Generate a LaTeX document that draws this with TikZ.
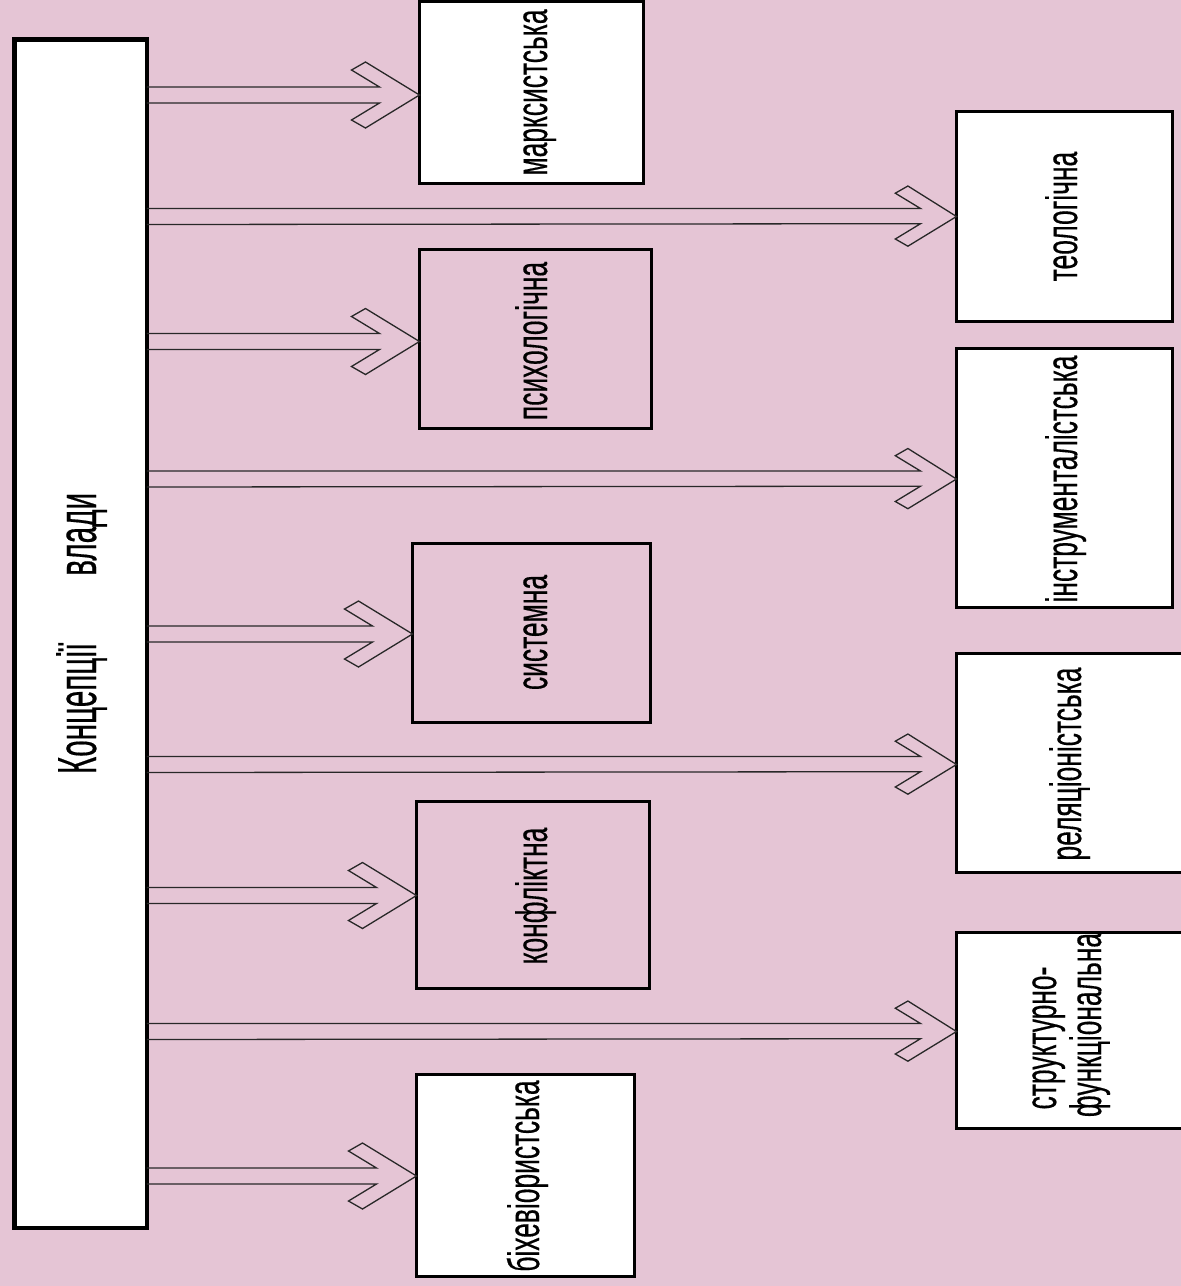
\documentclass[tikz,border=0pt]{standalone}
\usepackage{fontspec}
\setmainfont{Liberation Sans}[FakeBold=0.5]
\usetikzlibrary{calc}
\definecolor{bgpink}{RGB}{229,197,213}
\definecolor{lineink}{RGB}{40,40,40}
\tikzset{
  frame/.style={draw=black, line width=3pt, inner sep=0pt, outer sep=0pt, anchor=north west},
  lbl/.style={rotate=90, anchor=base, inner sep=0pt, font=\fontsize{44}{46}\selectfont},
  shaft/.style={draw=lineink, line width=1.3pt, line join=miter}
}
\newcommand\nar[1]{\scalebox{0.6}[1]{#1}}
% #1 from node, #2 to node, #3 image y, #4 head scale
\newcommand\hconn[4]{%
  \draw[shaft] ($(#1.east |- 0,#3)+(0,-8)$) -- ($(#2.west |- 0,#3)+({-40*#4},-8)$)
    -- ++({-28*#4},{-17*#4}) -- ++({14*#4},{-8*#4}) -- (#2.west |- 0,#3)
    -- ++({-54*#4},{33*#4}) -- ++({-14*#4},{-8*#4})
    -- ++({28*#4},{-17*#4}) -- ($(#1.east |- 0,#3)+(0,8)$);}
\begin{document}
\begin{tikzpicture}[x=1pt,y=-1pt]
\useasboundingbox (0,0) rectangle (1181,1286);
\clip (0,0) rectangle (1181,1286);
\fill[bgpink] (0,0) rectangle (1181,1286);
% main box
\node[frame, line width=4.5pt, fill=white, minimum width=132.5, minimum height=1188.5] (L) at (14.25,39.25) {};
% middle column
\node[frame, fill=white,  minimum width=224, minimum height=182] (m1) at (419.5,1.5) {};
\node[frame, fill=bgpink, minimum width=232, minimum height=179] (m2) at (419.5,249.5) {};
\node[frame, fill=bgpink, minimum width=238, minimum height=179] (m3) at (412.5,543.5) {};
\node[frame, fill=bgpink, minimum width=233, minimum height=187] (m4) at (416.5,801.5) {};
\node[frame, fill=white,  minimum width=218, minimum height=202] (m5) at (416.5,1074.5) {};
% right column
\node[frame, fill=white, minimum width=216, minimum height=210] (r1) at (956.5,111.5) {};
\node[frame, fill=white, minimum width=216, minimum height=259] (r2) at (956.5,348.5) {};
\node[frame, fill=white, minimum width=240, minimum height=219] (r3) at (956.5,653.5) {};
\node[frame, fill=white, minimum width=240, minimum height=196] (r4) at (956.5,932.5) {};
% labels
\node[lbl, font=\fontsize{55}{57}\selectfont] (tL) at (96,633.5) {\scalebox{0.54}[1]{Концепції\hspace{124pt}влади}};
\node[lbl] (t1) at (547,92.5) {\nar{марксистська}};
\node[lbl] (t2) at (547,341) {\nar{психологічна}};
\node[lbl] (t3) at (547,632.5) {\nar{системна}};
\node[lbl] (t4) at (547,896) {\nar{конфліктна}};
\node[lbl] (t5) at (539,1176) {\nar{біхевіористська}};
\node[lbl] (t6) at (1077,216.5) {\nar{теологічна}};
\node[lbl] (t7) at (1077,479) {\nar{інструменталістська}};
\node[lbl] (t8) at (1081,764) {\nar{реляціоністська}};
\node[lbl] (t9a) at (1056,1038) {\nar{структурно-}};
\node[lbl] (t9b) at (1101,1025) {\nar{функціональна}};
% connectors
\hconn{L}{m1}{95}{1}
\hconn{L}{r1}{216.5}{0.9}
\hconn{L}{m2}{341.5}{1}
\hconn{L}{r2}{479}{0.9}
\hconn{L}{m3}{634}{1}
\hconn{L}{r3}{764.5}{0.9}
\hconn{L}{m4}{895.5}{1}
\hconn{L}{r4}{1031.5}{0.9}
\hconn{L}{m5}{1176}{1}
\end{tikzpicture}
\end{document}
